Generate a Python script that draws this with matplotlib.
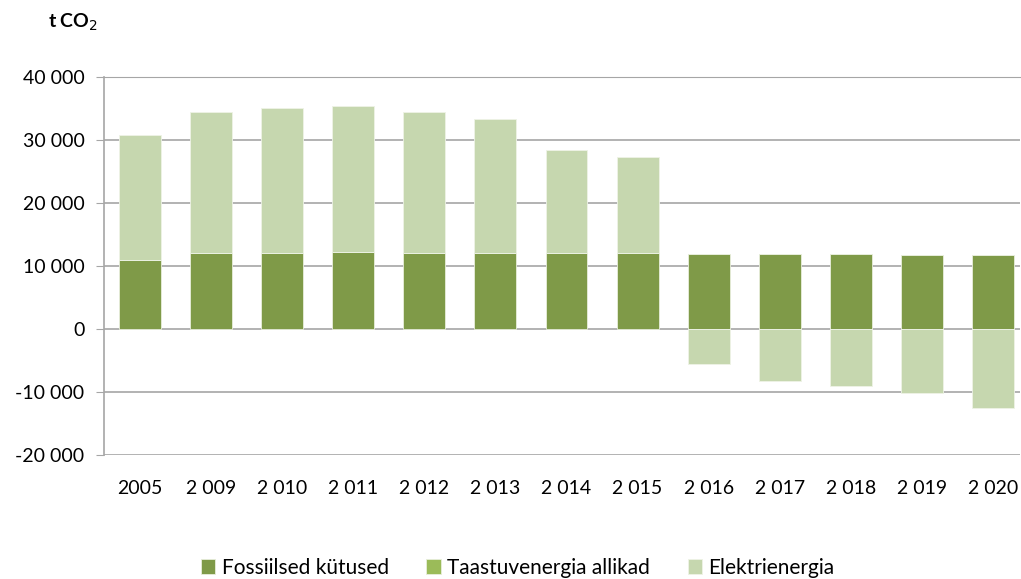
import matplotlib
matplotlib.use("Agg")
import matplotlib.pyplot as plt
from matplotlib.ticker import FuncFormatter

years = ["2005", "2 009", "2 010", "2 011", "2 012", "2 013", "2 014", "2 015",
         "2 016", "2 017", "2 018", "2 019", "2 020"]
fossiilsed = [11000, 12100, 12100, 12300, 12100, 12100, 12100, 12100,
              11900, 11900, 11900, 11750, 11750]
taastuv = [0, 0, 0, 0, 0, 0, 0, 0, 0, 0, 0, 0, 0]
elekter = [19800, 22350, 22980, 23100, 22350, 21230, 16300, 15200,
           -5560, -8200, -9100, -10200, -12490]

c_foss = "#7F9A48"
c_taas = "#9BBB59"
c_elek = "#C6D7AF"

plt.rcParams["font.family"] = ["Lato", "DejaVu Sans"]

fig = plt.figure(figsize=(10.21, 5.79), dpi=100)
ax = fig.add_axes([104 / 1021, 1 - 455 / 579, 916 / 1021, 378 / 579])

x = list(range(len(years)))
w = 0.59
ax.bar(x, fossiilsed, w, color=c_foss, edgecolor="#E8EEDC", linewidth=0.6,
       label="Fossiilsed kütused", zorder=3)
ax.bar(x, taastuv, w, bottom=fossiilsed, color=c_taas, edgecolor="#E8EEDC",
       linewidth=0.6, label="Taastuvenergia allikad", zorder=3)
# positive electricity stacks on top, negative goes below zero
bottoms = [f + t if e >= 0 else 0 for f, t, e in zip(fossiilsed, taastuv, elekter)]
ax.bar(x, elekter, w, bottom=bottoms, color=c_elek, edgecolor="#EEF3E6",
       linewidth=0.6, label="Elektrienergia", zorder=3)

ax.set_xlim(-0.506, len(years) - 0.62)
ax.set_ylim(-20000, 40000)
ax.set_yticks(range(-20000, 40001, 10000))
ax.yaxis.set_major_formatter(FuncFormatter(lambda v, p: f"{int(v):,}".replace(",", " ")))
ax.set_xticks(x)
ax.set_xticklabels(years)
ax.grid(axis="y", color="#A6A6A6", linewidth=1.2, zorder=0)
ax.set_axisbelow(True)

for s in ["right", "bottom"]:
    ax.spines[s].set_visible(False)
ax.spines["top"].set_color("#A6A6A6")
ax.spines["left"].set_color("#A6A6A6")
ax.spines["left"].set_linewidth(1.2)
ax.tick_params(axis="y", length=6, color="#A6A6A6", labelsize=14, pad=8)
ax.tick_params(axis="x", length=0, labelsize=14, pad=18)

fig.text(48 / 1021, 1 - 22 / 579, "t CO$_2$", fontsize=14, fontweight="bold",
         va="center", ha="left")

fig.legend(loc="center", bbox_to_anchor=(0.507, 1 - 568 / 579), ncol=3,
           frameon=False, fontsize=15, handlelength=0.7, handleheight=0.7,
           handletextpad=0.3, columnspacing=1.8)

fig.savefig("out.png", dpi=100)
